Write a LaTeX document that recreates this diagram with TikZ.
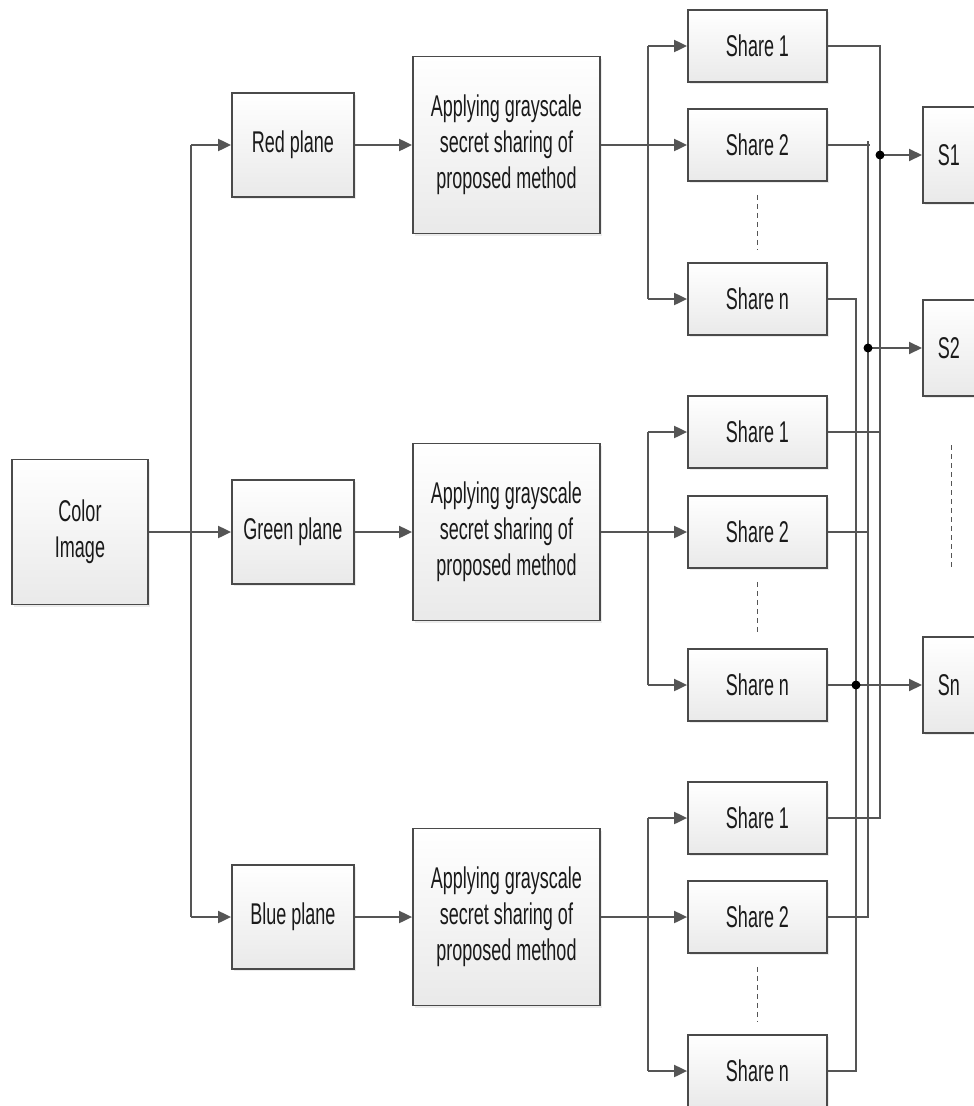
\documentclass[tikz,border=0pt]{standalone}
\usepackage{fontspec}
\setmainfont{Liberation Sans}[FakeStretch=0.6]
\usetikzlibrary{arrows.meta,shadows}
\definecolor{boxline}{HTML}{4A4A4A}
\definecolor{lin}{HTML}{555555}
\definecolor{txt}{HTML}{1A1A1A}
\begin{document}
\begin{tikzpicture}[x=1pt,y=-1pt,
  box/.style={draw=boxline, line width=1.8pt, top color=white, bottom color=gray!17,
    text=txt, font=\fontsize{30}{36}\selectfont, align=center, inner sep=0pt,
    drop shadow={shadow xshift=2pt, shadow yshift=-2pt, opacity=0.15}},
  planebox/.style={box, minimum width=122pt, minimum height=104pt},
  appbox/.style={box, minimum width=187pt, minimum height=177pt},
  sharebox/.style={box, minimum width=139pt, minimum height=72pt},
  outbox/.style={box, anchor=west, align=left, text width=45pt, inner xsep=15pt, minimum height=96pt},
  line/.style={draw=lin, line width=2pt},
  arr/.style={line, -{Triangle[length=13pt,width=12pt]}, fill=lin},
  dotline/.style={draw=lin, line width=0.9pt, dash pattern=on 5pt off 4pt},
  jdot/.style={fill=black}
]
\path[use as bounding box] (0,0) rectangle (974,1106);
\clip (0,0) rectangle (974,1106);

% left column
\node[box, minimum width=136pt, minimum height=145pt] (color) at (80,532) {Color\\Image};
\node[planebox] (red) at (293,145) {Red plane};
\node[planebox] (green) at (293,532) {Green plane};
\node[planebox] (blue) at (293,917) {Blue plane};

\node[appbox] (app-r) at (506.5,145) {Applying grayscale\\secret sharing of\\proposed method};
\node[appbox] (app-g) at (506.5,532) {Applying grayscale\\secret sharing of\\proposed method};
\node[appbox] (app-b) at (506.5,917) {Applying grayscale\\secret sharing of\\proposed method};

% shares
\node[sharebox] (s1-r) at (757.5,46) {Share 1};
\node[sharebox] (s2-r) at (757.5,145) {Share 2};
\node[sharebox] (sn-r) at (757.5,299) {Share n};
\node[sharebox] (s1-g) at (757.5,432) {Share 1};
\node[sharebox] (s2-g) at (757.5,532) {Share 2};
\node[sharebox] (sn-g) at (757.5,685) {Share n};
\node[sharebox] (s1-b) at (757.5,818) {Share 1};
\node[sharebox] (s2-b) at (757.5,917) {Share 2};
\node[sharebox] (sn-b) at (757.5,1071) {Share n};

% outputs
\node[outbox] (S1) at (922,155) {S1};
\node[outbox] (S2) at (922,348) {S2};
\node[outbox] (Sn) at (922,685) {Sn};

% left connectors
\coordinate (bt) at (191,145);
\coordinate (bb) at (191,917);
\draw[line] (bt) -- (bb);
\draw[arr] (bt) -- (red.west);
\draw[arr] (bb) -- (blue.west);
\draw[arr] (color.east) -- (green.west);
\draw[arr] (red.east) -- (app-r.west);
\draw[arr] (green.east) -- (app-g.west);
\draw[arr] (blue.east) -- (app-b.west);

% branches to shares
\coordinate (br) at (648,0);
\foreach \r in {r,g,b}{
  \draw[arr] (app-\r.east) -- (s2-\r.west);
  \draw[line] (s1-\r.west -| br) -- (sn-\r.west -| br);
  \draw[arr] (s1-\r.west -| br) -- (s1-\r.west);
  \draw[arr] (sn-\r.west -| br) -- (sn-\r.west);
  \draw[dotline] ([yshift=-13pt]s2-\r.south) -- ([yshift=13pt]sn-\r.north);
}

% right buses
\coordinate (A) at (880,0);
\coordinate (B) at (868,0);
\coordinate (C) at (856,0);
\draw[line] (s1-r.east) -- (s1-r.east -| A) -- (s1-b.east -| A) -- (s1-b.east);
\draw[line] (s1-g.east) -- (s1-g.east -| A);
\draw[line] (s2-r.east) -- ([xshift=2pt]s2-r.east -| B);
\draw[line] ([yshift=4pt]s2-r.east -| B) -- (s2-b.east -| B) -- (s2-b.east);
\draw[line] (s2-g.east) -- (s2-g.east -| B);
\draw[line] (sn-r.east) -- (sn-r.east -| C) -- (sn-b.east -| C) -- (sn-b.east);

\draw[arr] (S1.west -| A) -- (S1.west);
\draw[arr] (S2.west -| B) -- (S2.west);
\draw[arr] (sn-g.east) -- (Sn.west);
\fill[jdot] (S1.west -| A) circle (4.5pt);
\fill[jdot] (S2.west -| B) circle (4.5pt);
\fill[jdot] (sn-g.east -| C) circle (4.5pt);

\coordinate (sd1) at (951,445);
\coordinate (sd2) at (951,570);
\draw[dotline] (sd1) -- (sd2);
\end{tikzpicture}
\end{document}
